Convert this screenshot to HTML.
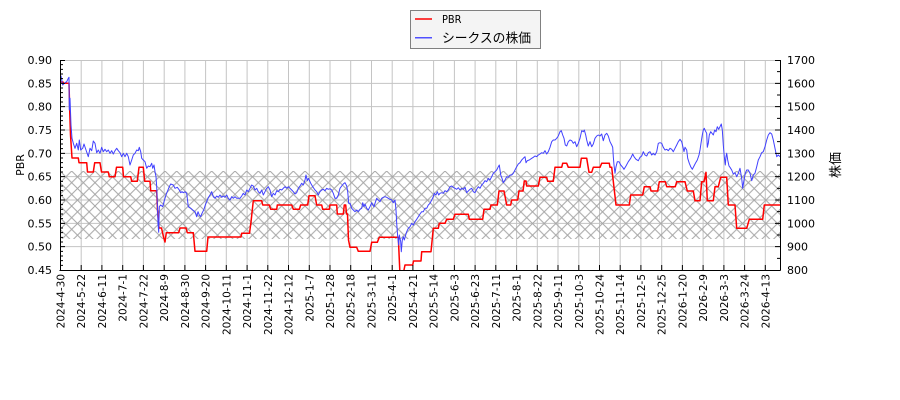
<!DOCTYPE html>
<html><head><meta charset="utf-8"><style>
html,body{margin:0;padding:0;background:#fff;}
svg{display:block;}
.t{font-family:"DejaVu Sans","Liberation Sans",sans-serif;font-size:11px;fill:#000;}
.d{font-family:"DejaVu Sans","Liberation Sans",sans-serif;font-size:10.5px;fill:#000;}
.j{font-family:"Liberation Sans","Noto Sans CJK JP",sans-serif;fill:#000;}
</style></head><body>
<svg width="900" height="400" viewBox="0 0 900 400" xmlns="http://www.w3.org/2000/svg">
<defs>
<pattern id="h" patternUnits="userSpaceOnUse" x="60" y="171" width="11.667" height="11.667">
<path d="M-1,-1L12.667,12.667M12.667,-1L-1,12.667" stroke="#a6a6a6" stroke-width="1" fill="none"/>
</pattern>
<clipPath id="c"><rect x="60" y="60" width="720" height="210"/></clipPath>
</defs>
<rect width="900" height="400" fill="#fff"/>
<!-- grid -->
<g stroke="#c4c4c4" stroke-width="1" fill="none">
<path d="M60,60.5H780M60,83.33H780M60,106.67H780M60,130H780M60,153.33H780M60,176.67H780M60,200H780M60,223.33H780M60,246.67H780"/>
<path d="M81.2,60V270M101.9,60V270M122.7,60V270M143.4,60V270M164.2,60V270M184.9,60V270M205.6,60V270M226.3,60V270M247.1,60V270M267.8,60V270M288.5,60V270M309.3,60V270M330,60V270M350.7,60V270M371.5,60V270M392.2,60V270M412.9,60V270M433.6,60V270M454.4,60V270M475.1,60V270M495.8,60V270M516.6,60V270M537.3,60V270M558,60V270M578.8,60V270M599.5,60V270M620.2,60V270M640.9,60V270M661.7,60V270M682.4,60V270M703.1,60V270M723.9,60V270M744.6,60V270M765.3,60V270"/>
</g>
<rect x="60" y="171" width="720" height="68" fill="url(#h)"/>
<g clip-path="url(#c)" fill="none" stroke-linejoin="round">
<polyline stroke="#ff0000" stroke-width="1.5" points="60,82 63,82 63.5,83.3 69,83.3 69.7,110 70.5,135 72,158 78.3,158 79,162.7 86.7,162.7 87.5,172 93.3,172 94.7,162.7 100,162.7 101.5,172 108.3,172 109.3,176.7 115,176.7 116.5,167.3 122.7,167.3 123.5,176.7 130.7,176.7 131.7,181.3 137.3,181.3 139,167.3 143.3,167.3 144.7,181.3 150,181.3 150.7,190.7 156.7,190.7 157.5,210 159,228 161.5,228 163.5,237 165,242 166.3,232.7 178.7,232.7 180,228 186,228 187.3,232.7 193.3,232.7 195,251.3 206.7,251.3 208,237 241,237 241.7,233.3 249.5,233.3 251,222 253.3,200.7 261.7,200.7 262.7,205 269.3,205 270.7,209.3 276.7,209.3 277.3,205 291.7,205 293.3,209.3 299.3,209.3 300.7,205 307.7,205 309,195.7 315,195.7 316.7,205 321.7,205 322.7,209.3 329.3,209.3 330,205 336.7,205 337.3,214 343.3,214 344.3,205 345.7,205 346.5,214 347.5,214 348.5,240 350,247.3 356.7,247.3 358.3,251.3 370,251.3 371.7,242.3 377.3,242.3 379.3,237.3 398.3,237.3 400,275 403,275 405,265 412.7,265 413.5,261 421,261 421.7,251.7 431,251.7 433.3,228.3 438.3,228.3 439.3,223.3 445,223.3 446.7,219.3 453.3,219.3 455,214.3 468.3,214.3 469.3,219.3 482.7,219.3 484,209.3 490,209.3 491,205 497.3,205 499,191 504,191 506.7,205 510.7,205 511.7,200 517.7,200 519,191 523,191 524.3,181 526,181 526.7,186 538.3,186 540,177.3 546.7,177.3 547.7,181.3 553.3,181.3 555,167.3 561.7,167.3 562.7,163.3 566.7,163.3 568.3,167.3 580,167.3 581.3,158.3 586.7,158.3 589,172.3 591.7,172.3 593.3,167.3 600,167.3 601.7,163.3 609.3,163.3 610,167.3 611.7,167.3 616,205 629.3,205 630.7,195 642.7,195 644.3,186.7 650,186.7 651,191 657.7,191 659.3,181.7 665.3,181.7 666.7,186.7 675.3,186.7 676.7,181.7 685,181.7 687.3,191 693.3,191 695,200.7 700,200.7 701.7,181.7 704,181.7 706,172.3 707.3,200.7 713.3,200.7 715,186.7 718.3,186.7 720.7,177.3 726.7,177.3 728.3,205 735,205 736.7,228.3 746.7,228.3 749.3,219.3 762.7,219.3 764.3,205 780,205"/>
<polyline stroke="#4040ff" stroke-width="1" points="60,78 61,76 62.7,85 65,82.7 66.7,81.7 68.3,78.3 69,77.3 69.3,110 70,98.3 71,125 72,138.3 73.3,143.3 75,148.3 76.7,143.3 78.3,150 79.3,140 80.7,150 82.7,148.3 84,144 86,150 88.3,156.7 90,148.3 91.7,150.7 93.3,141 95,143.3 96.7,152.7 98.3,150 100,153.3 101.7,147.3 103.3,151.7 105,149.3 106.7,151.7 108.3,150 110,153.3 111.7,150.7 113.3,154 115,150.7 116.7,148.3 118.3,150.7 120,152.7 121.7,156.7 123.3,153.3 125,156.7 126.7,153.3 128.3,156.7 130,165 131.7,160 133.3,155 135,153.3 136.7,150 138.3,150.7 139.3,147.3 140.7,151.7 141.7,158.3 143.3,160 145,161.7 146.7,168.3 148.3,166 150,166.7 151.7,163.3 152.7,168.3 154,165 155,171.7 156,176.7 156.7,186.7 157.3,203.3 158,223.3 158.7,232.3 159.3,206.7 160.7,205 162.7,206.7 164,201.7 166,195 167.3,191.7 169.3,186.7 170.7,184 173.3,185 175,188.3 177.3,187.3 179.3,190 180.7,192.7 182,191.7 183.3,192.7 185,191.7 186.7,193.3 188.3,206.7 190.7,208.3 192.7,210 195,211.7 196.7,216.7 198,211.7 199.3,215 200.7,216.7 202,213.3 204,209.3 205.3,205 206.7,201.7 208.3,197.7 210,195 211.7,191.7 213.3,196.7 215,198.3 216.7,196 218.3,197.3 220,195 221.7,197.3 223.3,196 225,197.3 226.7,195 228.3,198.3 230,200 231.7,196.7 233.3,198.3 235,196.7 236.7,198.3 240,198.3 241.7,196 243.3,193.3 245,195 246.7,190 248.3,191.7 250,188.3 251.7,185 253.3,186 255,190 256.7,188.3 258.3,191.7 260,193.3 261.7,190 263.3,195 265,191.7 266.7,188.3 268.3,186.7 270,190 271.7,196.7 273.3,193.3 275,195 276.7,190.7 278.3,191.7 280,189.3 281.7,190 283.3,188.3 285,186.7 286.7,188.3 288.3,186.7 290,188.3 291.7,190 293.3,191.7 295,194 296.7,192.7 298.3,188.3 300,186 301.7,183.3 303.3,185 305,180 306,175 307.3,180.7 308.3,178.3 309.3,180 310.7,183.3 312.7,186.7 315,190 316.7,191.7 318.3,195 320,191.7 321.7,190 323.3,189.3 325,190.7 326.7,188.3 328.3,189.3 330,188.7 331.7,190 333.3,193.3 335,198.3 336.7,198.3 338.3,195 340,188.3 341.7,186 343.3,184 345,182.7 346.7,186 347.7,191.7 348.7,203.3 350,203.3 351.7,208.3 353.3,210 355,211.7 356.7,210 358.3,211.7 360,209.3 361.7,208.3 362.7,202.7 364,206.7 365,204 366.7,208.3 368.3,210 370,206.7 371.7,202.7 372.7,205 374,206.7 375,203.3 376.7,198.3 378.3,200 380,201.7 381.7,198.3 383.3,197.3 385,196.7 386.7,197.3 388.3,198.3 390,199.3 391.7,200 393.3,202.7 395,200 396,210 396.7,223.3 397.7,236.7 398.7,245 399.3,235 400.7,241.7 401.3,251.7 402.3,240 403.3,236.7 404.3,240 405.7,235 406.7,231.7 408.3,228.3 410,226.7 411.7,223.3 413.3,225 415,221.7 416.7,219.3 418.3,216.7 420,214 421.7,211.7 423.3,211.7 425,208.3 426.7,208.3 428.3,205 430,203.3 431.7,200 433.3,196.7 434.3,193.3 436,195 437.3,191.7 438.7,195 440,193.3 441.7,192.7 443.3,193.3 445,190.7 446.7,191.7 448.3,190 450,186.7 451.7,186 453.3,187.3 455,188.3 456.7,189.3 458.3,187.7 460,190 461.7,188.3 463.3,189.3 465,187.3 466.7,192.7 468.3,191 470,189.3 471.7,188.3 473.3,191.7 475,192.7 476.7,189.3 478.3,186.7 480,188.3 481.7,185 483.3,183.3 485,180.7 486.7,181.7 488.3,178.3 490,180 491.7,176.7 493.3,173.3 495,171.7 496.7,170 498.3,166.7 499.3,165 500.7,175 502,178.3 503.3,182.7 505,180 506.7,176.7 508.3,177.3 510,175 511.7,175 513.3,173.3 515,170 516.7,166.7 518.3,164 520,162.7 521.7,160 523.3,158.3 525,156.7 526,162.7 527.3,160.7 529.3,160 531.7,158.3 533.3,157.3 535,156 536.7,156.7 538.3,155 540,154 541.7,152.7 543.3,153.3 545,150.7 546.7,154 548.3,151.7 550,147.3 551.7,141.7 553.3,140 555,140 556.7,138.3 558.3,136 560,131.7 561.3,130.7 562.7,135 564,138.3 565.3,145 566.7,146 568.3,141.7 570,140 571.7,140.7 573.3,143.3 575,141.7 576.7,146.7 578.3,143.3 580,138.3 581.7,130.7 583.3,131.7 584.3,130 585.7,135 586.7,140 588.3,146 590,141.7 591.7,146.7 593.3,144 595,138.3 596.7,136 598.3,135 600,136 601.7,134 603.3,140.7 605,135 606.7,133.3 608.3,136 610,141.7 611.7,145 612.7,147.3 613.3,156.7 614,165 615,173.3 616,166.7 617.3,161.7 619,161.7 620.7,165 622.7,167.3 624,169.3 626,166 628.3,161.7 630.7,158.3 632.7,154 634,156.7 636,159.3 638.3,160.7 640,157.3 641.7,156 643.3,151.7 645,155 646.7,156 648.3,152.7 650,151.7 651.7,155 653.3,153.3 655,155 656.7,151.7 658.3,143.3 660,142.7 661.7,143.3 663.3,147.3 665,150 666.7,149.3 668.3,150.7 670,148.3 671.7,149.3 673.3,151.7 675,148.3 676.7,145 678.3,141.7 680,139.3 681.7,141.7 682.7,146 684,151.7 685,147.3 686.7,150 687.7,158.3 689.3,163.3 690.7,166.7 692.3,169.3 694,166 695.7,162.7 697.3,160 699,155 700,150 701,143.3 702.3,135 703.3,130 704.3,128.3 705.3,130.7 706.7,133.3 707.3,147.3 708.3,143.3 709.3,135 710.7,131.7 712,133.3 713.3,135 714.7,130 716,131.7 717.3,126.7 718.7,129.3 720,126.7 721.3,124 722.3,130 723.3,145 724.3,156.7 725.3,165 726,156.7 726.7,153.3 727.7,160 729,166 730,167.3 731.7,170 733.3,174 735,172.7 736.7,176.7 738.3,173.3 740,168.3 741.7,178.3 742.7,188.3 744,180 745.3,173.3 746.7,170 748.3,170 750,173.3 751.7,180.7 753.3,175 755,173.3 756.7,166.7 758.3,160 760,156.7 761.7,152.7 763.3,151.7 765,146.7 766.7,140 768.3,135 770,132.7 771.7,134 773.3,140 775,148.3 776.7,156.7 778.3,155 780,156.7"/>
</g>
<!-- ticks -->
<g stroke="#000" stroke-width="1" fill="none">
<path d="M60,64.67h3M60,69.33h3M60,74h3M60,78.67h3M60,88h3M60,92.67h3M60,97.33h3M60,102h3M60,111.33h3M60,116h3M60,120.67h3M60,125.33h3M60,134.67h3M60,139.33h3M60,144h3M60,148.67h3M60,158h3M60,162.67h3M60,167.33h3M60,172h3M60,181.33h3M60,186h3M60,190.67h3M60,195.33h3M60,204.67h3M60,209.33h3M60,214h3M60,218.67h3M60,228h3M60,232.67h3M60,237.33h3M60,242h3M60,251.33h3M60,256h3M60,260.67h3M60,265.33h3"/>
<path d="M60,60.5h5M60,83.33h5M60,106.67h5M60,130h5M60,153.33h5M60,176.67h5M60,200h5M60,223.33h5M60,246.67h5"/>
<path d="M780,60.5h-5M780,71.67h-3M780,83.33h-5M780,95h-3M780,106.67h-5M780,118.33h-3M780,130h-5M780,141.67h-3M780,153.33h-5M780,165h-3M780,176.67h-5M780,188.33h-3M780,200h-5M780,211.67h-3M780,223.33h-5M780,235h-3M780,246.67h-5M780,258.33h-3"/>
<path d="M81.2,270v-5M101.9,270v-5M122.7,270v-5M143.4,270v-5M164.2,270v-5M184.9,270v-5M205.6,270v-5M226.3,270v-5M247.1,270v-5M267.8,270v-5M288.5,270v-5M309.3,270v-5M330,270v-5M350.7,270v-5M371.5,270v-5M392.2,270v-5M412.9,270v-5M433.6,270v-5M454.4,270v-5M475.1,270v-5M495.8,270v-5M516.6,270v-5M537.3,270v-5M558,270v-5M578.8,270v-5M599.5,270v-5M620.2,270v-5M640.9,270v-5M661.7,270v-5M682.4,270v-5M703.1,270v-5M723.9,270v-5M744.6,270v-5M765.3,270v-5"/>
<path d="M60.5,60V270.5M59.5,270.5H780.5M780.5,60V270.5"/>
</g>
<!-- left tick labels -->
<g class="t" text-anchor="end">
<text x="52" y="64">0.90</text>
<text x="52" y="87.3">0.85</text>
<text x="52" y="110.7">0.80</text>
<text x="52" y="134">0.75</text>
<text x="52" y="157.3">0.70</text>
<text x="52" y="180.7">0.65</text>
<text x="52" y="204">0.60</text>
<text x="52" y="227.3">0.55</text>
<text x="52" y="250.7">0.50</text>
<text x="52" y="274">0.45</text>
</g>
<g class="t" text-anchor="start">
<text x="787" y="64">1700</text>
<text x="787" y="87.3">1600</text>
<text x="787" y="110.7">1500</text>
<text x="787" y="134">1400</text>
<text x="787" y="157.3">1300</text>
<text x="787" y="180.7">1200</text>
<text x="787" y="204">1100</text>
<text x="787" y="227.3">1000</text>
<text x="787" y="250.7">900</text>
<text x="787" y="274">800</text>
</g>
<text class="t" transform="translate(24,165) rotate(-90)" text-anchor="middle">PBR</text>
<text class="j" font-size="13" transform="translate(840,165) rotate(-90)" text-anchor="middle">株価</text>
<!-- date labels -->
<g class="d" text-anchor="end">
<text transform="translate(60.5,274) rotate(-90)" y="4">2024-4-30</text>
<text transform="translate(81.2,274) rotate(-90)" y="4">2024-5-22</text>
<text transform="translate(101.9,274) rotate(-90)" y="4">2024-6-11</text>
<text transform="translate(122.7,274) rotate(-90)" y="4">2024-7-1</text>
<text transform="translate(143.4,274) rotate(-90)" y="4">2024-7-22</text>
<text transform="translate(164.2,274) rotate(-90)" y="4">2024-8-9</text>
<text transform="translate(184.9,274) rotate(-90)" y="4">2024-8-30</text>
<text transform="translate(205.6,274) rotate(-90)" y="4">2024-9-20</text>
<text transform="translate(226.3,274) rotate(-90)" y="4">2024-10-11</text>
<text transform="translate(247.1,274) rotate(-90)" y="4">2024-11-1</text>
<text transform="translate(267.8,274) rotate(-90)" y="4">2024-11-22</text>
<text transform="translate(288.5,274) rotate(-90)" y="4">2024-12-12</text>
<text transform="translate(309.3,274) rotate(-90)" y="4">2025-1-7</text>
<text transform="translate(330,274) rotate(-90)" y="4">2025-1-28</text>
<text transform="translate(350.7,274) rotate(-90)" y="4">2025-2-18</text>
<text transform="translate(371.5,274) rotate(-90)" y="4">2025-3-11</text>
<text transform="translate(392.2,274) rotate(-90)" y="4">2025-4-1</text>
<text transform="translate(412.9,274) rotate(-90)" y="4">2025-4-21</text>
<text transform="translate(433.6,274) rotate(-90)" y="4">2025-5-14</text>
<text transform="translate(454.4,274) rotate(-90)" y="4">2025-6-3</text>
<text transform="translate(475.1,274) rotate(-90)" y="4">2025-6-23</text>
<text transform="translate(495.8,274) rotate(-90)" y="4">2025-7-11</text>
<text transform="translate(516.6,274) rotate(-90)" y="4">2025-8-1</text>
<text transform="translate(537.3,274) rotate(-90)" y="4">2025-8-22</text>
<text transform="translate(558,274) rotate(-90)" y="4">2025-9-11</text>
<text transform="translate(578.8,274) rotate(-90)" y="4">2025-10-3</text>
<text transform="translate(599.5,274) rotate(-90)" y="4">2025-10-24</text>
<text transform="translate(620.2,274) rotate(-90)" y="4">2025-11-14</text>
<text transform="translate(640.9,274) rotate(-90)" y="4">2025-12-5</text>
<text transform="translate(661.7,274) rotate(-90)" y="4">2025-12-25</text>
<text transform="translate(682.4,274) rotate(-90)" y="4">2026-1-20</text>
<text transform="translate(703.1,274) rotate(-90)" y="4">2026-2-9</text>
<text transform="translate(723.9,274) rotate(-90)" y="4">2026-3-3</text>
<text transform="translate(744.6,274) rotate(-90)" y="4">2026-3-24</text>
<text transform="translate(765.3,274) rotate(-90)" y="4">2026-4-13</text>
</g>
<!-- legend -->
<rect x="410.5" y="10.5" width="130" height="38" fill="#f4f4f4" stroke="#808080" stroke-width="1"/>
<path d="M415,19H432" stroke="#ff0000" stroke-width="1.5"/>
<path d="M415,37.7H432" stroke="#5050ff" stroke-width="1.5"/>
<text class="t" x="442" y="23" font-size="10.5" textLength="19.5" lengthAdjust="spacingAndGlyphs">PBR</text>
<text class="j" x="442" y="42.5" font-size="13" textLength="89" lengthAdjust="spacingAndGlyphs">シークスの株価</text>
</svg>
</body></html>
